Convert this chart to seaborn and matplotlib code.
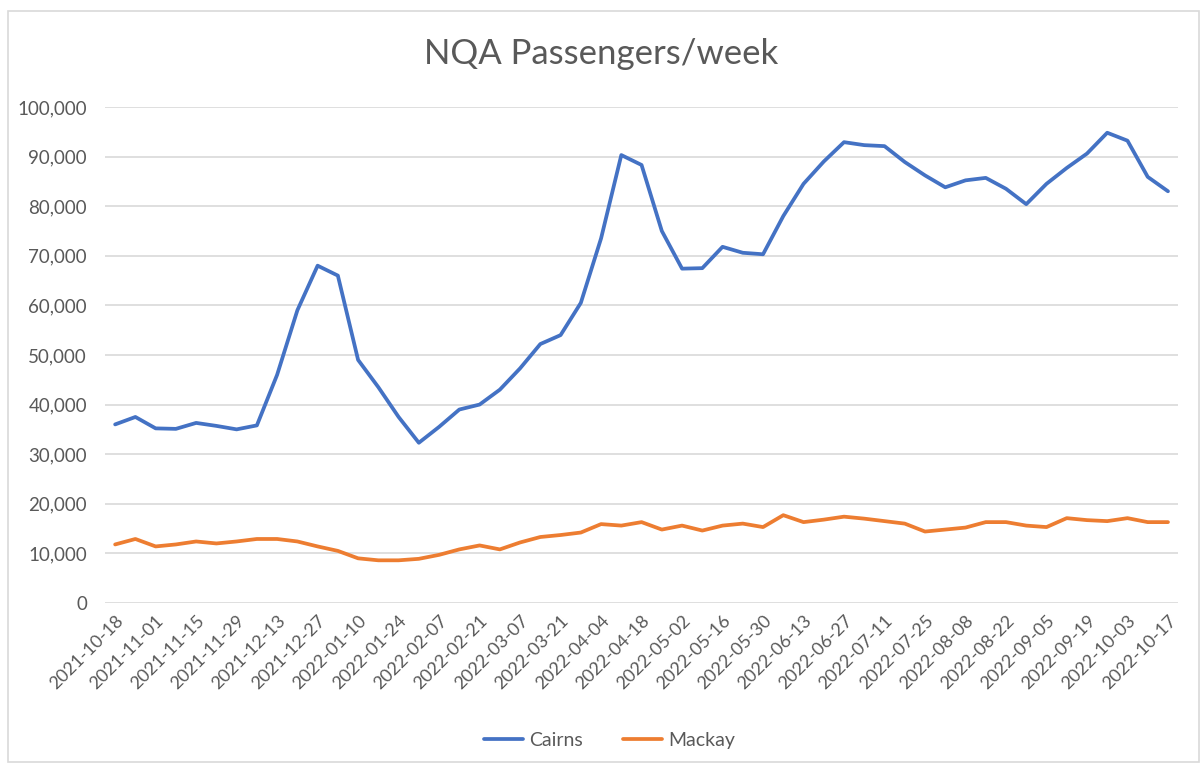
import pandas as pd
import matplotlib.pyplot as plt
import seaborn as sns
from matplotlib.patches import Rectangle

weeks = pd.date_range("2021-10-18", "2022-10-17", freq="7D").strftime("%Y-%m-%d").tolist()

cairns = [36000, 37500, 35200, 35100, 36300, 35700, 35000, 35800, 46000, 59000,
          68000, 66000, 49000, 43500, 37500, 32300, 35500, 39000, 40000, 43000,
          47300, 52200, 54000, 60500, 73500, 90300, 88300, 75000, 67400, 67500,
          71800, 70600, 70300, 78000, 84500, 89000, 92900, 92300, 92100, 88900,
          86200, 83800, 85200, 85700, 83500, 80400, 84500, 87700, 90600, 94800,
          93200, 85900, 83000]

mackay = [11800, 12900, 11400, 11800, 12400, 12000, 12400, 12900, 12900, 12400,
          11400, 10500, 9000, 8600, 8600, 8900, 9700, 10800, 11600, 10800,
          12200, 13300, 13700, 14200, 15900, 15600, 16300, 14800, 15600, 14600,
          15600, 16000, 15300, 17700, 16300, 16800, 17400, 17000, 16500, 16000,
          14400, 14800, 15200, 16300, 16300, 15600, 15300, 17100, 16700, 16500,
          17100, 16300, 16300]

df = pd.DataFrame({"week": range(len(weeks)), "Cairns": cairns, "Mackay": mackay})
df_long = df.melt(id_vars="week", var_name="airport", value_name="passengers")

sns.set_theme(style="white")
plt.rcParams['font.family'] = ['Lato', 'DejaVu Sans']
grey = '#595959'

fig = plt.figure(figsize=(12.03, 7.65), dpi=100)
ax = fig.add_axes([0.0873, 0.2118, 0.8920, 0.6484])

sns.lineplot(data=df_long, x="week", y="passengers", hue="airport",
             palette={"Cairns": "#4472C4", "Mackay": "#ED7D31"},
             linewidth=2.7, ax=ax)

ax.set_xlim(-0.5, len(weeks) - 0.5)
ax.set_ylim(0, 100000)
ax.set_yticks(range(0, 100001, 10000))
ax.set_yticklabels([f"{v:,}" for v in range(0, 100001, 10000)])
ax.set_xticks(range(0, len(weeks), 2))
ax.set_xticklabels(weeks[::2], rotation=45, ha='right', rotation_mode='anchor')
ax.tick_params(axis='y', colors=grey, labelsize=13.5, length=0, pad=13)
ax.tick_params(axis='x', colors=grey, labelsize=13, length=0, pad=7)
ax.grid(axis='y', color='#D9D9D9', linewidth=1.2)
ax.set_axisbelow(True)
for s in ax.spines.values():
    s.set_visible(False)
ax.set_xlabel('')
ax.set_ylabel('')

fig.suptitle('NQA Passengers/week', y=0.95, fontsize=25, color=grey)

handles, labels = ax.get_legend_handles_labels()
ax.legend(handles, labels, loc='lower center', bbox_to_anchor=(0.47, -0.33),
          ncol=2, frameon=False, fontsize=14, labelcolor=grey,
          handlelength=2.0, handletextpad=0.3, columnspacing=2.1)

fig.patches.append(Rectangle((0.007, 0.004), 0.99, 0.982, transform=fig.transFigure,
                             fill=False, edgecolor='#D9D9D9', linewidth=1.2))

plt.savefig('out.png', dpi=100)
